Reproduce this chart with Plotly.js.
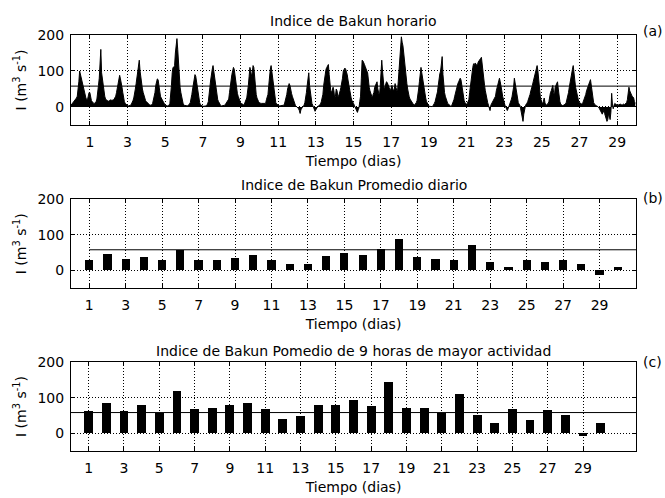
<!DOCTYPE html>
<html>
<head>
<meta charset="utf-8">
<script src="https://cdn.plot.ly/plotly-3.0.1.min.js"></script>
<style>
  html, body { margin: 0; padding: 0; background: #fff; }
  #chart { width: 665px; height: 498px; }
</style>
</head>
<body>
<div id="chart"></div>
<script>
// Índice de Bakun horario, una fila de 24 valores (m3 s-1) por día
const bakunHorario = [
  [5,8,10,12,15,18,20,25,30,45,70,100,90,75,70,60,50,40,30,25,20,20,30,40],
  [40,25,18,15,12,10,10,12,15,22,35,60,80,110,160,95,75,60,40,30,22,18,18,17],
  [16,18,20,20,18,18,20,22,25,30,40,55,70,80,88,78,70,55,40,25,15,10,7,5],
  [4,3,3,4,5,8,12,18,25,35,50,65,80,95,115,130,100,80,65,50,40,30,22,18],
  [15,12,10,8,6,5,5,6,10,18,28,40,60,75,78,76,55,45,30,25,20,15,12,8],
  [5,4,3,3,4,5,10,30,60,95,110,110,115,150,180,190,160,110,80,55,40,25,15,8],
  [5,4,3,3,3,4,5,8,12,20,35,50,65,80,90,85,70,55,35,22,12,6,4,3],
  [2,2,2,3,3,5,8,15,30,55,75,95,105,115,100,80,60,45,30,20,15,10,5,3],
  [3,3,3,4,5,8,12,15,18,22,40,60,75,90,100,110,105,85,70,50,38,30,22,15],
  [12,10,8,6,6,8,12,20,25,40,60,85,110,100,85,95,115,110,75,55,35,25,18,15],
  [12,10,10,10,10,12,12,10,10,20,25,35,60,90,105,115,95,80,55,35,20,12,8,6],
  [5,4,3,3,3,3,4,5,8,15,25,35,50,60,65,60,45,38,30,22,15,8,4,2],
  [0,-3,-5,-10,-18,-8,-2,0,2,5,12,22,40,60,80,95,60,40,20,10,5,0,-5,-12],
  [-8,-2,0,2,4,6,8,15,25,35,60,80,95,105,110,115,118,90,60,45,40,50,55,45],
  [25,30,50,45,30,30,35,45,55,65,80,100,105,108,105,100,90,75,60,45,35,25,18,15],
  [10,5,0,-5,-12,-15,-8,-2,15,30,80,130,128,120,118,112,108,100,95,70,55,45,40,30],
  [25,35,40,55,60,65,70,50,35,30,55,90,130,100,80,50,55,65,70,68,60,55,50,45],
  [55,60,50,45,50,65,55,45,40,70,100,130,150,195,180,170,150,125,105,85,65,50,35,28],
  [22,18,15,10,7,5,6,8,12,18,30,50,70,95,110,95,80,60,45,35,25,15,10,6],
  [3,2,1,0,1,2,5,10,15,22,32,42,60,80,92,100,115,140,90,60,40,30,22,15],
  [10,8,5,3,2,3,8,15,20,30,40,50,60,65,70,75,80,75,60,40,25,18,12,10],
  [8,10,15,20,40,60,80,100,110,120,118,122,120,115,118,125,130,132,135,138,115,100,80,60],
  [45,30,22,12,5,-5,-10,5,10,12,15,20,25,30,45,55,60,75,80,70,60,45,30,20],
  [10,5,0,-5,-10,-5,0,8,15,20,28,40,55,80,65,50,35,22,12,8,5,-5,-15,-25],
  [-40,-20,-5,2,8,10,15,20,25,35,45,50,60,70,80,90,100,110,115,100,70,45,30,20],
  [10,8,15,25,12,5,6,8,10,15,30,40,45,55,60,40,30,55,62,68,70,50,25,15],
  [8,5,4,4,5,6,8,12,20,30,40,55,70,80,95,105,115,100,75,55,42,30,20,15],
  [12,10,10,8,10,15,20,28,35,45,50,55,62,70,76,60,40,25,12,8,5,4,3,2],
  [0,-3,-8,-15,-18,-20,-15,-10,-18,-25,-30,-40,-35,-20,-25,-35,-15,38,5,-5,5,10,8,6],
  [5,5,6,8,8,6,5,6,8,6,8,10,12,20,40,55,45,40,32,30,28,25,15,10]
];

// Días del mes
const dias = [1,2,3,4,5,6,7,8,9,10,11,12,13,14,15,16,17,18,19,20,21,22,23,24,25,26,27,28,29,30];

// Promedio diario del índice
const promedioDiario = [28,46,31,38,28,57,30,30,34,42,30,18,18,41,50,42,59,88,38,33,28,71,23,8,30,24,28,19,-12,8];

// Promedio de las 9 horas de mayor actividad
const promedio9h = [62,86,62,78,56,118,68,72,78,86,68,39,47,78,80,92,76,144,72,72,57,109,50,28,69,38,66,50,-9,28];

// Valor de referencia (línea horizontal)
const umbral = 58;

// Marcas de los ejes
const ticksDias = [1,3,5,7,9,11,13,15,17,19,21,23,25,27,29];
const ticksIndice = [0,100,200];

// Tiempo en días para cada valor horario
const horas = [];
const valoresHorarios = [];
bakunHorario.forEach((fila, d) => {
  fila.forEach((v, h) => { horas.push(d + h / 24); valoresHorarios.push(v); });
});

const negro = '#000000';
const fuente = { family: '"DejaVu Sans", Verdana, sans-serif', size: 14, color: negro };

function ejeX(rango, ancla) {
  return {
    anchor: ancla, range: rango, tickvals: ticksDias,
    ticks: 'inside', ticklen: 4, tickcolor: negro, tickwidth: 1,
    showline: true, linecolor: negro, linewidth: 1, mirror: 'ticks',
    showgrid: true, gridcolor: negro, gridwidth: 1, griddash: '1px,2px',
    zeroline: false, ticklabelstandoff: 4, automargin: false,
    tickfont: fuente,
    title: { text: 'Tiempo (dias)', font: fuente, standoff: 7 }
  };
}
function ejeY(dominio, ancla) {
  return {
    anchor: ancla, domain: dominio, range: [-50, 200], tickvals: ticksIndice,
    ticks: 'inside', ticklen: 4, tickcolor: negro, tickwidth: 1,
    showline: true, linecolor: negro, linewidth: 1, mirror: 'ticks',
    showgrid: true, gridcolor: negro, gridwidth: 1, griddash: '1px,2px',
    zeroline: false, ticklabelstandoff: 3, automargin: false,
    tickfont: fuente,
    title: { text: 'I (m<sup>3</sup> s<sup>-1</sup>)', font: fuente, standoff: 7 }
  };
}

const trazos = [
  {
    type: 'scatter', mode: 'lines', x: horas, y: valoresHorarios,
    xaxis: 'x', yaxis: 'y', fill: 'tozeroy', fillcolor: negro,
    line: { color: negro, width: 1 }, hoverinfo: 'skip'
  },
  {
    type: 'bar', x: dias, y: promedioDiario, xaxis: 'x2', yaxis: 'y2',
    width: 0.45, marker: { color: negro, line: { width: 0 } }
  },
  {
    type: 'bar', x: dias, y: promedio9h, xaxis: 'x3', yaxis: 'y3',
    width: 0.5, marker: { color: negro, line: { width: 0 } }
  }
];

const lineaUmbral = (xref, yref, x0, x1) => ({
  type: 'line', xref: xref, yref: yref, x0: x0, x1: x1, y0: umbral, y1: umbral,
  line: { color: negro, width: 1 }, layer: 'above'
});

const titulo = (texto, y) => ({
  text: texto, xref: 'paper', yref: 'paper', x: 0.5, y: y,
  xanchor: 'center', yanchor: 'middle', showarrow: false, font: fuente
});

const etiqueta = (texto, y) => ({
  text: texto, xref: 'paper', yref: 'paper', x: 1.030, y: y,
  xanchor: 'center', yanchor: 'middle', showarrow: false, font: fuente
});

const layout = {
  width: 665, height: 498,
  margin: { l: 71, r: 29, t: 35, b: 47 },
  paper_bgcolor: '#ffffff', plot_bgcolor: '#ffffff',
  showlegend: false, bargap: 0,
  font: fuente,
  xaxis: ejeX([0, 30], 'y'),
  yaxis: ejeY([0.7837, 1], 'x'),
  xaxis2: ejeX([0, 31], 'y2'),
  yaxis2: ejeY([0.3918, 0.6046], 'x2'),
  xaxis3: ejeX([0, 32], 'y3'),
  yaxis3: ejeY([0, 0.2139], 'x3'),
  shapes: [
    lineaUmbral('x domain', 'y', 0, 1),
    lineaUmbral('x2', 'y2', dias[0], 31),
    lineaUmbral('x3 domain', 'y3', 0, 1)
  ],
  annotations: [
    titulo('Indice de Bakun horario', 1.0337),
    titulo('Indice de Bakun Promedio diario', 0.6394),
    titulo('Indice de Bakun Pomedio de 9 horas de mayor actividad', 0.2404),
    etiqueta('(a)', 1.0096),
    etiqueta('(b)', 0.6082),
    etiqueta('(c)', 0.2139)
  ]
};

Plotly.newPlot('chart', trazos, layout, { staticPlot: true, displayModeBar: false });
</script>
</body>
</html>
